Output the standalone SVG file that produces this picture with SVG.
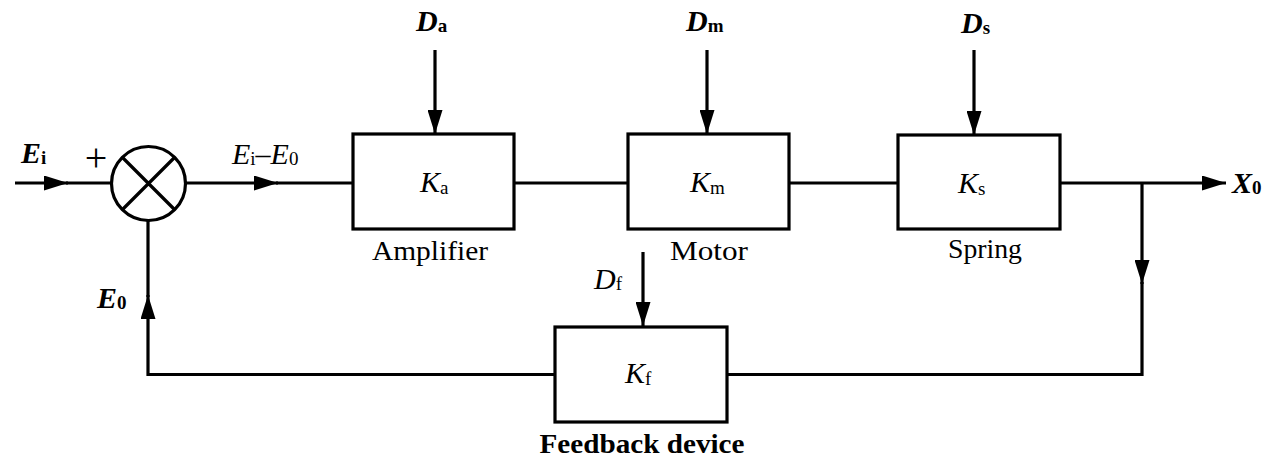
<svg xmlns="http://www.w3.org/2000/svg" width="1269" height="459" viewBox="0 0 1269 459">
<style>
.ln{fill:none;stroke:#000;stroke-width:3.2}
.bx{fill:#fff;stroke:#000;stroke-width:3.2}
.t{font-family:"Liberation Serif","Times New Roman",serif;font-size:28px;fill:#000}
.bi{font-weight:bold;font-style:italic}
.it{font-style:italic}
.b{font-weight:bold}
.k{font-size:30px}
.d{font-size:30px}
.sub{font-size:19px;font-style:normal}
.mid{text-anchor:middle}
.plus{font-size:40px}
</style>
<defs>
<marker id="arr" viewBox="0 0 24 15" refX="24" refY="7.5" markerWidth="24" markerHeight="15" markerUnits="userSpaceOnUse" orient="auto">
<path d="M0,0 L24,7.5 L0,15 z" fill="#000"/>
</marker>
</defs>
<rect width="1269" height="459" fill="#fff"/>
<g id="connectors">
<path class="ln" d="M15,183 H68" marker-end="url(#arr)"/>
<path class="ln" d="M66,183 H111"/>
<path class="ln" d="M186,183 H278" marker-end="url(#arr)"/>
<path class="ln" d="M276,183 H353"/>
<path class="ln" d="M514,183 H628"/>
<path class="ln" d="M789,183 H898"/>
<path class="ln" d="M1060,183 H1226" marker-end="url(#arr)"/>
<path class="ln" d="M1142,183 V284" marker-end="url(#arr)"/>
<path class="ln" d="M1142,282 V374.5 H727"/>
<path class="ln" d="M555,374.5 H148 V295" marker-end="url(#arr)"/>
<path class="ln" d="M148,297 V220"/>
<path class="ln" d="M435,50 V134" marker-end="url(#arr)"/>
<path class="ln" d="M707,50 V134" marker-end="url(#arr)"/>
<path class="ln" d="M974,50 V135" marker-end="url(#arr)"/>
<path class="ln" d="M643,252 V326" marker-end="url(#arr)"/>
</g>
<g id="summing-junction">
<circle class="bx" cx="148.5" cy="183.5" r="37"/>
<path class="ln" d="M122,157 L175,210 M175,157 L122,210"/>
<text class="t plus mid" x="96" y="171">+</text>
</g>
<g id="amplifier">
<rect class="bx" x="353" y="134" width="161" height="95"/>
<text class="t it k" x="420" y="192">K<tspan class="sub" dy="2">a</tspan></text>
<text class="t mid" x="430" y="260" textLength="116" lengthAdjust="spacingAndGlyphs">Amplifier</text>
</g>
<g id="motor">
<rect class="bx" x="628" y="134" width="161" height="95"/>
<text class="t it k" x="690" y="192">K<tspan class="sub" dy="2">m</tspan></text>
<text class="t mid" x="709" y="260" textLength="78" lengthAdjust="spacingAndGlyphs">Motor</text>
</g>
<g id="spring">
<rect class="bx" x="898" y="135" width="162" height="94"/>
<text class="t it k" x="958" y="193">K<tspan class="sub" dy="2">s</tspan></text>
<text class="t mid" x="985" y="258" textLength="74" lengthAdjust="spacingAndGlyphs">Spring</text>
</g>
<g id="feedback-device">
<rect class="bx" x="555" y="327" width="172" height="95"/>
<text class="t it k" x="625" y="383">K<tspan class="sub" dy="2">f</tspan></text>
<text class="t b mid" x="642" y="453" textLength="205" lengthAdjust="spacingAndGlyphs">Feedback device</text>
</g>
<g id="labels">
<text class="t bi d" x="21" y="163">E<tspan class="sub" dy="1">i</tspan></text>
<text class="t it k" x="232" y="164">E<tspan class="sub" dy="1">i</tspan><tspan dy="-1">–E</tspan><tspan class="sub" dy="1">0</tspan></text>
<text class="t bi d" x="97" y="308">E<tspan class="sub" dy="1">0</tspan></text>
<text class="t bi d" x="416" y="31">D<tspan class="sub b" dy="1">a</tspan></text>
<text class="t bi d" x="686" y="31">D<tspan class="sub b" dy="1">m</tspan></text>
<text class="t bi d" x="961" y="33">D<tspan class="sub b" dy="1">s</tspan></text>
<text class="t it k" x="594" y="289">D<tspan class="sub" dy="1">f</tspan></text>
<text class="t bi d" x="1232" y="193">X<tspan class="sub b" dy="1">0</tspan></text>
</g>
</svg>
